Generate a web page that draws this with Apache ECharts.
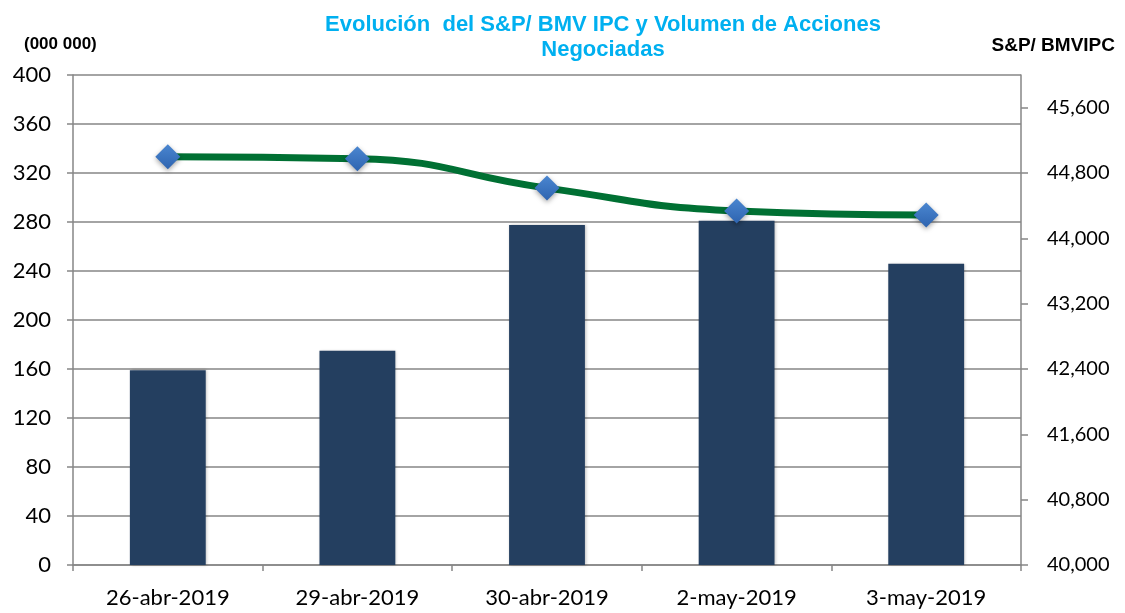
<!DOCTYPE html>
<html>
<head>
<meta charset="utf-8">
<script src="https://cdn.jsdelivr.net/npm/echarts@6/dist/echarts.min.js"></script>
<style>
  html, body { margin: 0; padding: 0; background: #fff; }
  #chart { width: 1125px; height: 613px; }
</style>
</head>
<body>
<div id="chart"></div>
<script>
// ========== 数据 ==========
const fechas   = ['26-abr-2019', '29-abr-2019', '30-abr-2019', '2-may-2019', '3-may-2019'];
const volumen  = [159, 175, 277.5, 281, 246];              // millones de acciones
const ipc      = [45000, 44975, 44615, 44335, 44285];      // S&P/BMV IPC

const axisGray = '#868686';
const lblFont = 'Lato, "Open Sans", sans-serif';
const boldFont = '"Liberation Sans", Arial, sans-serif';

const chart = echarts.init(document.getElementById('chart'));
chart.setOption({
    backgroundColor: '#fff',
    animation: false,
    title: {
        text: 'Evolución  del S&P/ BMV IPC y Volumen de Acciones\nNegociadas',
        left: 598, top: 7, textAlign: 'center',
        textStyle: { color: '#00B0F0', fontSize: 22, fontWeight: 'bold',
                     fontFamily: boldFont, lineHeight: 25 }
    },
    graphic: [
        { type: 'text', left: 24, top: 36,
          style: { text: '(000 000)', fill: '#000', font: 'bold 17px ' + boldFont } },
        { type: 'text', right: 10, top: 36,
          style: { text: 'S&P/ BMVIPC', fill: '#000', font: 'bold 19px ' + boldFont } }
    ],
    grid: { left: 73, right: 104, top: 75, bottom: 48 },
    xAxis: {
        type: 'category', data: fechas,
        axisLine: { lineStyle: { color: axisGray, width: 1.5 } },
        axisTick: { show: true, length: 6, lineStyle: { color: axisGray, width: 1.5 } },
        axisLabel: { color: '#000', fontSize: 22, fontFamily: lblFont, margin: 22 },
        splitLine: { show: false }
    },
    yAxis: [{
        type: 'value', min: 0, max: 400, interval: 40,
        axisLine: { show: true, lineStyle: { color: axisGray, width: 1.5 } },
        axisTick: { show: true, length: 6, lineStyle: { color: axisGray, width: 1.5 } },
        axisLabel: { color: '#000', fontSize: 22, fontFamily: lblFont, margin: 22 },
        splitLine: { lineStyle: { color: axisGray, width: 1.5 } }
    }, {
        type: 'value', min: 40000, max: 46000, interval: 800,
        axisLine: { show: true, lineStyle: { color: axisGray, width: 1.5 } },
        axisTick: { show: true, length: 7, lineStyle: { color: axisGray, width: 1.5 } },
        axisLabel: { color: '#000', fontSize: 20, fontFamily: lblFont, margin: 26, showMaxLabel: false,
                     formatter: v => v.toLocaleString('en-US') },
        splitLine: { show: false }
    }],
    series: [{
        type: 'bar', data: volumen, barWidth: '40%',
        itemStyle: { color: '#243F60', shadowBlur: 3, shadowColor: 'rgba(0,0,0,0.25)', shadowOffsetX: 1 }
    }, {
        type: 'line', yAxisIndex: 1, data: ipc, smooth: 0.5,
        lineStyle: { color: '#007033', width: 7 },
        symbol: 'diamond', symbolSize: [25, 25],
        itemStyle: {
            color: { type: 'linear', x: 0, y: 0, x2: 0, y2: 1,
                     colorStops: [{ offset: 0, color: '#4A86D0' }, { offset: 1, color: '#2E64B0' }] },
            shadowBlur: 5, shadowColor: 'rgba(0,0,0,0.35)', shadowOffsetY: 2
        },
        z: 5
    }]
});
</script>
</body>
</html>
